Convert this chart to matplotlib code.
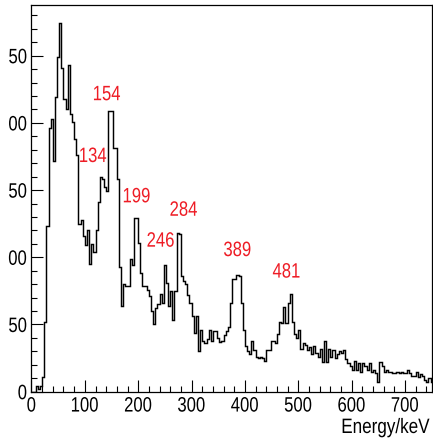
import numpy as np
import matplotlib
matplotlib.use('Agg')
import matplotlib.pyplot as plt
from matplotlib.patheffects import AbstractPathEffect
from matplotlib.ticker import MultipleLocator
from matplotlib.transforms import Affine2D, Bbox

# spectrum, 4 keV per bin starting at 0 keV
bin_width = 4.0
counts = [
    0, 0, 4, 2, 4, 11, 52, 123, 196, 203,
    172, 219, 249, 274, 241, 218, 210, 243, 207, 201,
    188, 176, 125, 128, 116, 109, 120, 95, 110, 104,
    120, 141, 160, 158, 152, 149, 209, 209, 181, 181,
    158, 93, 64, 80, 79, 79, 99, 94, 129, 129,
    111, 88, 79, 79, 76, 71, 60, 50, 62, 65,
    73, 66, 94, 81, 64, 75, 53, 75, 118, 117,
    86, 82, 80, 72, 66, 56, 44, 56, 30, 46,
    38, 36, 39, 46, 38, 45, 45, 40, 37, 38,
    42, 45, 48, 66, 84, 84, 87, 86, 66, 46,
    34, 30, 28, 38, 31, 26, 25, 26, 25, 23,
    31, 31, 38, 38, 36, 43, 52, 51, 63, 51,
    66, 73, 52, 43, 40, 46, 32, 36, 35, 31,
    33, 28, 34, 29, 26, 32, 22, 38, 22, 32,
    26, 31, 25, 28, 30, 29, 31, 24, 21, 19,
    16, 23, 16, 21, 15, 21, 19, 16, 21, 15,
    16, 14, 7, 22, 19, 15, 16, 15, 15, 14,
    14, 15, 14, 15, 14, 14, 16, 14, 12, 12,
    15, 11, 13, 12, 9, 7, 10, 7,
]

# peak energies (keV) and where their labels sit
peak_labels = ['134', '154', '199', '246', '284', '389', '481']
label_x = [115, 141, 197, 242, 285, 386, 478]
label_y = [175, 221, 145, 112, 135, 105, 89]


class Narrow(AbstractPathEffect):
    '''Squeeze glyphs horizontally (Helvetica-narrow look), keeping the
    text anchored at its left / centre / right edge.'''

    def __init__(self, sx=0.8, anchor=0.0):
        super().__init__()
        self.sx = sx
        self.anchor = anchor

    def draw_path(self, renderer, gc, tpath, affine, rgbFace=None):
        ext = tpath.get_extents()
        shift = (1 - self.sx) * ext.x1 * self.anchor
        tr = Affine2D().scale(self.sx, 1).translate(shift, 0) + affine
        renderer.draw_path(gc, tpath, tr, rgbFace)


FS = 15
plt.rcParams['font.family'] = ['Liberation Sans', 'DejaVu Sans']

counts = np.array(counts, dtype=float)
edges = np.arange(len(counts) + 1) * bin_width

fig = plt.figure(figsize=(4.33, 4.40), dpi=100)
ax = fig.add_axes([0.0727, 0.1098, 0.9243, 0.8787])

ax.stairs(counts, edges, color='black', lw=1.05, baseline=0)

ax.set_xlim(0, 750)
ax.set_ylim(0, 1.05 * counts.max())

ax.xaxis.set_major_locator(MultipleLocator(100))
ax.xaxis.set_minor_locator(MultipleLocator(20))
ax.yaxis.set_major_locator(MultipleLocator(50))
ax.yaxis.set_minor_locator(MultipleLocator(10))
ax.tick_params(which='both', direction='in', top=False, right=False,
               width=0.8, labelsize=FS)
ax.tick_params(which='major', length=8.5)
ax.tick_params(which='minor', length=4.5)
ax.tick_params(axis='x', pad=3.5)
ax.tick_params(axis='y', pad=3)
for sp in ax.spines.values():
    sp.set_linewidth(0.9)

for txt, x, y in zip(peak_labels, label_x, label_y):
    ax.text(x, y, txt, color='#ee1c25', fontsize=FS,
            ha='center', va='center', path_effects=[Narrow(anchor=0.5)])

fig.text(430 / 433, 7 / 440, 'Energy/keV', ha='right', va='baseline',
         fontsize=FS, path_effects=[Narrow(sx=0.82, anchor=1.0)])

# the canvas is trimmed on the left, cutting the leading digit
fig.canvas.draw()
clip = Bbox.from_extents(8.0, 0, 433, 440)
for lab in ax.get_yticklabels():
    lab.set_path_effects([Narrow(anchor=1.0)])
    lab.set_clip_on(True)
    lab.set_clip_box(clip)
for lab in ax.get_xticklabels():
    lab.set_path_effects([Narrow(anchor=0.5)])

fig.savefig('out.png', dpi=100)
